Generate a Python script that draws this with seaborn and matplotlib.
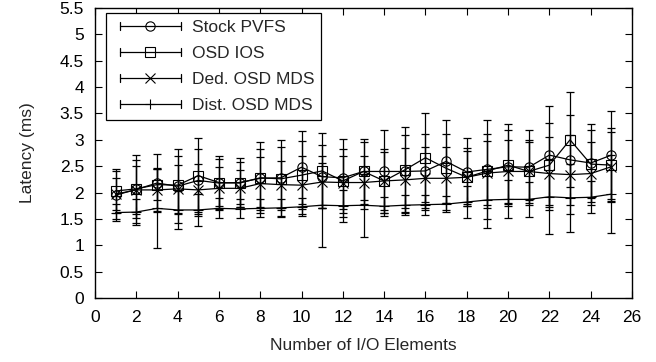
import numpy as np
import pandas as pd
import matplotlib
matplotlib.use("Agg")
import matplotlib.pyplot as plt
import seaborn as sns
from matplotlib.lines import Line2D
from matplotlib.legend_handler import HandlerBase
from matplotlib.ticker import FixedLocator, FixedFormatter

# ---- data -------------------------------------------------------------
io_elements = list(range(1, 26))

stock_pvfs = [1.95, 2.06, 2.18, 2.12, 2.23, 2.18, 2.19, 2.27, 2.28, 2.48,
              2.30, 2.28, 2.40, 2.40, 2.40, 2.41, 2.59, 2.39, 2.44, 2.49,
              2.48, 2.71, 2.62, 2.56, 2.71]
stock_pvfs_err = [0.45, 0.55, 0.55, 0.70, 0.60, 0.52, 0.47, 0.55, 0.72, 0.69,
                  0.60, 0.74, 0.55, 0.79, 0.70, 0.70, 0.79, 0.64, 0.94, 0.70,
                  0.71, 0.94, 0.85, 0.74, 0.84]

osd_ios = [2.03, 2.07, 2.15, 2.14, 2.32, 2.19, 2.18, 2.28, 2.26, 2.33,
           2.41, 2.22, 2.40, 2.22, 2.43, 2.66, 2.46, 2.29, 2.41, 2.52,
           2.40, 2.52, 3.00, 2.54, 2.52]
osd_ios_err = [0.42, 0.64, 0.30, 0.55, 0.72, 0.45, 0.40, 0.67, 0.60, 0.65,
               0.71, 0.60, 0.62, 0.60, 0.82, 0.84, 0.65, 0.55, 0.70, 0.78,
               0.60, 0.80, 0.90, 0.65, 0.70]

ded_osd_mds = [1.97, 2.05, 2.05, 2.07, 2.05, 2.08, 2.08, 2.17, 2.15, 2.14,
               2.20, 2.19, 2.19, 2.22, 2.24, 2.27, 2.27, 2.29, 2.37, 2.40,
               2.40, 2.36, 2.34, 2.36, 2.49]
ded_osd_mds_err = [0.30, 0.45, 0.40, 0.45, 0.50, 0.40, 0.35, 0.50, 0.45, 0.55,
                   0.50, 0.50, 0.50, 0.55, 0.60, 0.60, 0.60, 0.50, 0.60, 0.60,
                   0.55, 0.70, 0.75, 0.60, 0.65]

dist_osd_mds = [1.62, 1.63, 1.70, 1.67, 1.67, 1.70, 1.69, 1.70, 1.71, 1.73,
                1.76, 1.75, 1.76, 1.74, 1.76, 1.77, 1.78, 1.82, 1.86, 1.87,
                1.87, 1.92, 1.90, 1.91, 1.97]
dist_osd_mds_err = [0.16, 0.24, 0.76, 0.36, 0.30, 0.19, 0.18, 0.17, 0.17, 0.17,
                    0.80, 0.30, 0.60, 0.18, 0.19, 0.19, 0.15, 0.31, 0.54, 0.36,
                    0.33, 0.71, 0.65, 0.30, 0.74]

series_names = ["Stock PVFS", "OSD IOS", "Ded. OSD MDS", "Dist. OSD MDS"]
series_markers = ["o", "s", "x", "+"]

x_ticks = [0, 2, 4, 6, 8, 10, 12, 14, 16, 18, 20, 22, 24, 26]
y_ticks = [0, 0.5, 1, 1.5, 2, 2.5, 3, 3.5, 4, 4.5, 5, 5.5]
y_tick_labels = ["0", "0.5", "1", "1.5", "2", "2.5", "3", "3.5", "4", "4.5", "5", "5.5"]

rows = []
for name, mean, err in zip(series_names,
                           [stock_pvfs, osd_ios, ded_osd_mds, dist_osd_mds],
                           [stock_pvfs_err, osd_ios_err, ded_osd_mds_err, dist_osd_mds_err]):
    for xi, m, e in zip(io_elements, mean, err):
        rows.append({"series": name, "elements": xi, "latency": m, "err": e})
df = pd.DataFrame(rows)

# ---- style ------------------------------------------------------------
FS = 12.5
sns.set_style("ticks")
plt.rcParams["font.family"] = ["Liberation Sans", "DejaVu Sans"]
plt.rcParams["font.size"] = FS

fig = plt.figure(figsize=(6.56, 3.62), dpi=100)
ax = fig.add_axes([95 / 656, 64 / 362, 537 / 656, 290 / 362])

marker_kw = dict(ms=6.7, mew=0.8, mfc="none", mec="black")

for name, marker in zip(series_names, series_markers):
    sub = df[df["series"] == name]
    ax.errorbar(sub["elements"], sub["latency"], yerr=sub["err"], fmt="none",
                ecolor="black", elinewidth=0.9, capsize=3.2, capthick=0.9, zorder=2)
    sns.lineplot(data=sub, x="elements", y="latency", ax=ax, color="black",
                 lw=0.9, marker=marker, legend=False, zorder=3, **marker_kw)

ax.set_xlim(0, 26)
ax.set_ylim(0, 5.5)
ax.xaxis.set_major_locator(FixedLocator(x_ticks))
ax.yaxis.set_major_locator(FixedLocator(y_ticks))
ax.yaxis.set_major_formatter(FixedFormatter(y_tick_labels))
ax.tick_params(direction="in", length=5, width=0.8, top=True, right=True,
               labelsize=FS, colors="black")
ax.tick_params(axis="x", pad=9)
ax.tick_params(axis="y", pad=8)
for sp in ax.spines.values():
    sp.set_visible(True)
    sp.set_linewidth(1.0)
    sp.set_color("black")

ax.set_xlabel("Number of I/O Elements", fontsize=FS, labelpad=9)
ax.set_ylabel("Latency (ms)", fontsize=FS, labelpad=18)


# legend entries drawn as a horizontal error bar with the marker in the middle
class ErrorbarKeyHandler(HandlerBase):
    def create_artists(self, legend, orig_handle, xdescent, ydescent,
                       width, height, fontsize, trans):
        y = height / 2 - ydescent
        x0, x1 = -xdescent + 5, width - xdescent
        cap = 3.0
        artists = [
            Line2D([x0, x1], [y, y], color="black", lw=0.9),
            Line2D([x0, x0], [y - cap, y + cap], color="black", lw=0.9),
            Line2D([x1, x1], [y - cap, y + cap], color="black", lw=0.9),
            Line2D([(x0 + x1) / 2], [y], marker=orig_handle.get_marker(),
                   ls="none", **marker_kw),
        ]
        for a in artists:
            a.set_transform(trans)
        return artists


handles = [Line2D([], [], marker=m, color="black") for m in series_markers]
leg = ax.legend(handles, series_names, loc="upper left",
                bbox_to_anchor=(11 / 537, 1 - 5 / 290),
                handler_map={Line2D: ErrorbarKeyHandler()},
                handlelength=3.9, handletextpad=0.65, labelspacing=0.62,
                borderpad=0.4, borderaxespad=0, fancybox=False,
                frameon=True, framealpha=1, fontsize=FS)
leg.get_frame().set_edgecolor("black")
leg.get_frame().set_linewidth(0.9)

fig.savefig("out.png", dpi=100)
